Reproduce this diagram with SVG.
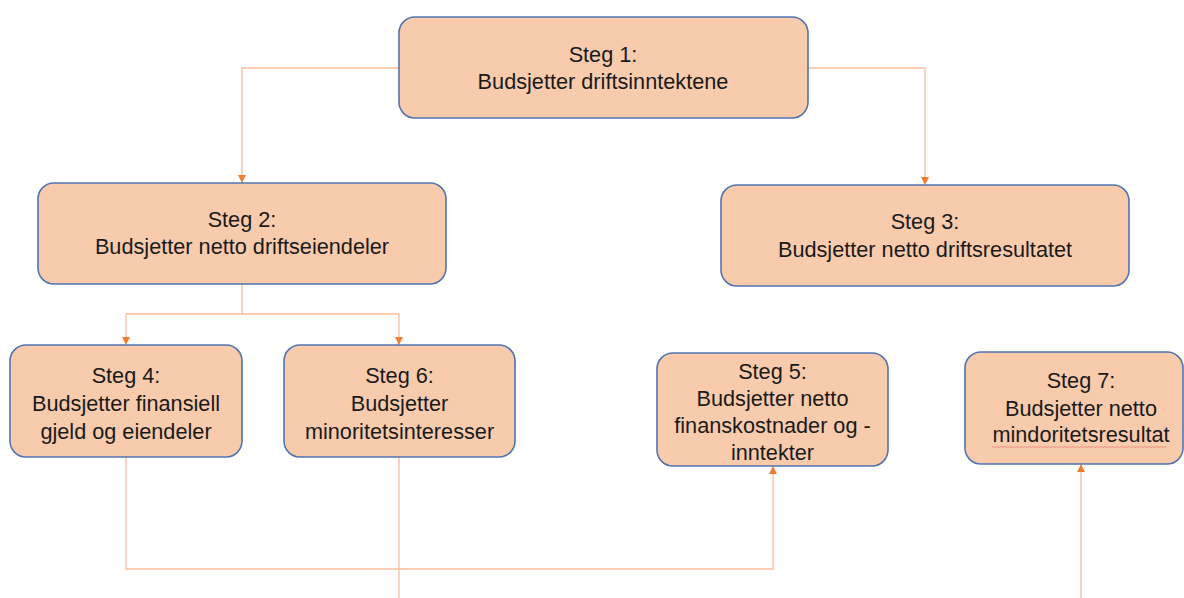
<svg xmlns="http://www.w3.org/2000/svg" width="1184" height="598" viewBox="0 0 1184 598">
<style>
.box{fill:#F8CBAD;stroke:#5173B0;stroke-width:1.6}
.t{font-family:"Liberation Sans",Arial,sans-serif;font-size:21.7px;fill:#1a1a1a;text-anchor:middle}
.c{fill:none;stroke:#F7BE9A;stroke-width:1.3}
</style>
<defs>
<marker id="ah" viewBox="0 0 10 10" refX="10" refY="5" markerWidth="8" markerHeight="8" markerUnits="userSpaceOnUse" orient="auto">
<path d="M0,0 L10,5 L0,10 z" fill="#ED7D31"/>
</marker>
</defs>
<rect width="1184" height="598" fill="#fff"/>
<g id="connectors">
<path class="c" d="M399,68 H242 V183" marker-end="url(#ah)"/>
<path class="c" d="M808,68 H925 V185" marker-end="url(#ah)"/>
<path class="c" d="M242,284 V314 H126 V345" marker-end="url(#ah)"/>
<path class="c" d="M242,314 H399 V345" marker-end="url(#ah)"/>
<path class="c" d="M126,457 V569 H773 V466" marker-end="url(#ah)"/>
<path class="c" d="M399,457 V598"/>
<path class="c" d="M1081,598 V464" marker-end="url(#ah)"/>
</g>
<g id="n1">
<rect class="box" x="399" y="17" width="409" height="101" rx="16"/>
<text class="t" x="603" y="62">Steg 1:</text>
<text class="t" x="603" y="89">Budsjetter driftsinntektene</text>
</g>
<g id="n2">
<rect class="box" x="38" y="183" width="408" height="101" rx="16"/>
<text class="t" x="242" y="227">Steg 2:</text>
<text class="t" x="242" y="254">Budsjetter netto driftseiendeler</text>
</g>
<g id="n3">
<rect class="box" x="721" y="185" width="408" height="101" rx="16"/>
<text class="t" x="925" y="229">Steg 3:</text>
<text class="t" x="925" y="257">Budsjetter netto driftsresultatet</text>
</g>
<g id="n4">
<rect class="box" x="10" y="345" width="232" height="112" rx="16"/>
<text class="t" x="126" y="383">Steg 4:</text>
<text class="t" x="126" y="411">Budsjetter finansiell</text>
<text class="t" x="126" y="439">gjeld og eiendeler</text>
</g>
<g id="n6">
<rect class="box" x="284" y="345" width="231" height="112" rx="16"/>
<text class="t" x="399.5" y="383">Steg 6:</text>
<text class="t" x="399.5" y="411">Budsjetter</text>
<text class="t" x="399.5" y="439">minoritetsinteresser</text>
</g>
<g id="n5">
<rect class="box" x="657" y="353" width="231" height="113" rx="16"/>
<text class="t" x="772.5" y="379">Steg 5:</text>
<text class="t" x="772.5" y="406">Budsjetter netto</text>
<text class="t" x="772.5" y="433">finanskostnader og -</text>
<text class="t" x="772.5" y="460">inntekter</text>
</g>
<g id="n7">
<rect class="box" x="965" y="352" width="218" height="112" rx="16"/>
<text class="t" x="1081" y="388">Steg 7:</text>
<text class="t" x="1081" y="416">Budsjetter netto</text>
<text class="t" x="1081" y="442">mindoritetsresultat</text>
<path d="M992,447 q1,-1 2,0 t2,0 t2,0 t2,0 t2,0 t2,0 t2,0 t2,0 t2,0 t2,0 t2,0 t2,0 t2,0 t2,0 t2,0 t2,0 t2,0 t2,0 t2,0 t2,0 t2,0 t2,0 t2,0 t2,0 t2,0 t2,0 t2,0 t2,0 t2,0 t2,0 t2,0 t2,0 t2,0 t2,0 t2,0 t2,0 t2,0 t2,0 t2,0 t2,0 t2,0 t2,0 t2,0 t2,0 t2,0 t2,0 t2,0 t2,0 t2,0 t2,0 t2,0 t2,0 t2,0 t2,0 t2,0 t2,0 t2,0 t2,0 t2,0 t2,0 t2,0 t2,0 t2,0 t2,0 t2,0 t2,0 t2,0 t2,0 t2,0 t2,0 t2,0 t2,0 t2,0 t2,0 t2,0 t2,0 t2,0 t2,0 t2,0 t2,0 t2,0 t2,0 t2,0 t2,0 t2,0 t2,0 t2,0" fill="none" stroke="#F0827A" stroke-width="0.8"/>
</g>
</svg>
